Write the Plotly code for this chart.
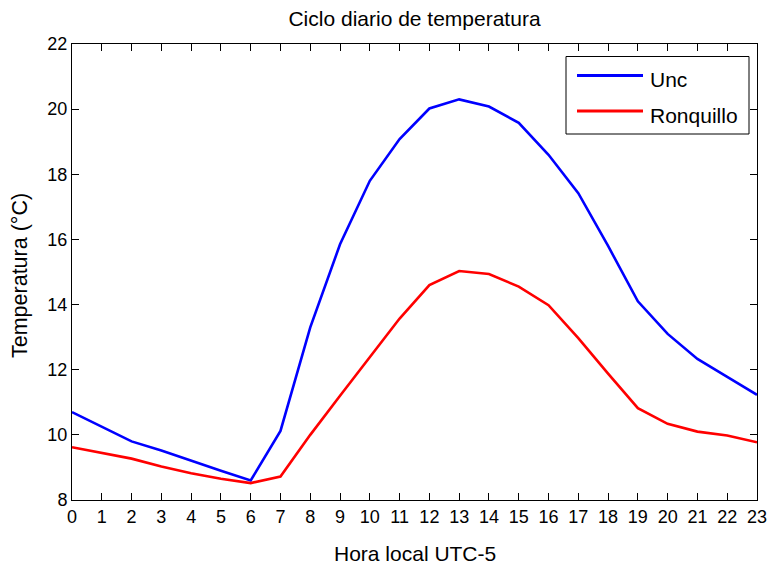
import plotly.graph_objects as go

# Hourly mean temperature (°C) for each station, local time UTC-5
hours = list(range(24))
series_names = ["Unc", "Ronquillo"]
unc = [10.7, 10.25, 9.8, 9.52, 9.2, 8.9, 8.6, 10.12, 13.3, 15.85, 17.8, 19.08,
       20.02, 20.3, 20.08, 19.58, 18.6, 17.42, 15.8, 14.1, 13.1, 12.33, 11.78, 11.23]
ronquillo = [9.62, 9.44, 9.27, 9.03, 8.82, 8.65, 8.52, 8.72, 10.0, 11.2, 12.4, 13.57,
             14.6, 15.03, 14.94, 14.55, 13.98, 12.97, 11.88, 10.82, 10.34, 10.1, 9.98, 9.77]
series_values = [unc, ronquillo]
series_colors = ["#0000FF", "#FF0000"]

y_ticks = [8, 10, 12, 14, 16, 18, 20, 22]
x_ticks = hours

FONT = "Liberation Sans, Arial, Helvetica, sans-serif"
W, H = 770, 564
L, R, T, B = 72, 13, 44, 64
plot_w = W - L - R
plot_h = H - T - B

fig = go.Figure()
for name, vals, col in zip(series_names, series_values, series_colors):
    fig.add_trace(go.Scatter(x=hours, y=vals, mode="lines", name=name,
                             line=dict(color=col, width=2.6), showlegend=False))

axis_common = dict(showline=True, linecolor="#000000", linewidth=1, mirror="ticks",
                   ticks="inside", ticklen=7, tickcolor="#000000", tickwidth=1,
                   showgrid=False, zeroline=False, automargin=False,
                   tickfont=dict(family=FONT, size=18, color="#000000"))

fig.update_xaxes(range=[0, 23], tickmode="array", tickvals=x_ticks,
                 ticktext=[str(h) for h in x_ticks], **axis_common)
fig.update_yaxes(range=[8, 22], tickmode="array", tickvals=y_ticks,
                 ticktext=[str(v) for v in y_ticks], **axis_common)


def px_x(x):
    return (x - L) / plot_w


def px_y(y):
    return (H - B - y) / plot_h


# Legend box drawn in the upper-right corner of the axes
shapes = [dict(type="rect", xref="paper", yref="paper",
               x0=px_x(566), x1=px_x(749), y0=px_y(134), y1=px_y(56.5),
               line=dict(color="#000000", width=1), fillcolor="#FFFFFF", layer="above")]
annotations = []
legend_rows = [75.5, 111]
for name, col, yy in zip(series_names, series_colors, legend_rows):
    shapes.append(dict(type="line", xref="paper", yref="paper",
                       x0=px_x(577), x1=px_x(643), y0=px_y(yy), y1=px_y(yy),
                       line=dict(color=col, width=3), layer="above"))
    annotations.append(dict(text=name, xref="paper", yref="paper",
                            x=px_x(648), y=px_y(yy + 4), xanchor="left", yanchor="middle",
                            showarrow=False, font=dict(family=FONT, size=21, color="#000000")))

annotations.append(dict(text="Hora local UTC-5", xref="paper", yref="paper",
                        x=0.5, y=px_y(553), xanchor="center", yanchor="middle",
                        showarrow=False, font=dict(family=FONT, size=21, color="#000000")))
annotations.append(dict(text="Temperatura (°C)", xref="paper", yref="paper",
                        x=px_x(20), y=px_y(276), xanchor="center", yanchor="middle",
                        textangle=-90, showarrow=False,
                        font=dict(family=FONT, size=21.5, color="#000000")))

fig.update_layout(
    width=W, height=H, autosize=False,
    margin=dict(l=L, r=R, t=T, b=B, autoexpand=False),
    paper_bgcolor="#FFFFFF", plot_bgcolor="#FFFFFF",
    title=dict(text="Ciclo diario de temperatura", x=(L + plot_w / 2) / W, xanchor="center",
               y=1 - 19 / H, yanchor="middle",
               font=dict(family=FONT, size=21, color="#000000")),
    shapes=shapes, annotations=annotations,
)

fig.write_html("out.html")
